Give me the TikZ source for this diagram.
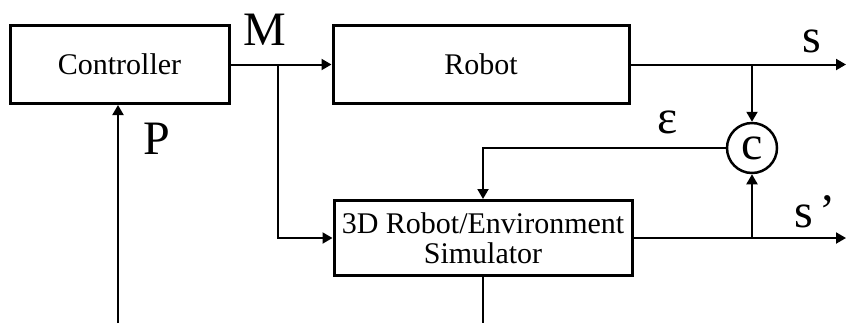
\documentclass[tikz,border=0pt]{standalone}
\usepackage{fontspec}
\setmainfont{Liberation Serif}
\usetikzlibrary{arrows.meta}
\begin{document}
\begin{tikzpicture}[x=0.5pt,y=-0.5pt,
  block/.style={draw, line width=1.5pt, inner sep=0pt, align=center,
    font=\fontsize{15}{15}\selectfont},
  conn/.style={line width=1pt},
  arr/.style={conn, -{Triangle[length=5pt,width=5.5pt]}},
  lbl/.style={inner sep=0pt, anchor=base, font=\fontsize{24}{24}\selectfont},
  cmpnode/.style={draw, circle, line width=1.25pt, inner sep=0pt,
    minimum size=25pt, font=\fontsize{24}{24}\selectfont}]
  \useasboundingbox (0,0) rectangle (846,323);

  % blocks
  \node[block, minimum width=109.5pt, minimum height=39pt] (ctrl) at (119.5,64.5) {Controller};
  \node[block, minimum width=148pt, minimum height=39pt] (robot) at (481,64.5) {Robot};
  \node[block, minimum width=149pt, minimum height=37.5pt] (sim) at (483,238) {3D Robot/Environment\\Simulator};
  \node[cmpnode] (cmp) at (752,148) {c};

  % branch points and free ends
  \coordinate (jM) at (278,64.5);
  \coordinate (jS) at (752,64.5);
  \coordinate (jSP) at (752,238);
  \coordinate (sOut) at (846,64.5);
  \coordinate (spOut) at (846,238);
  \coordinate (simBot) at (483,323);
  \coordinate (pBot) at (118,323);

  % connectors
  \draw[arr] (ctrl.east) -- (robot.west);
  \draw[arr] (jM) |- (sim.west);
  \draw[arr] (robot.east) -- (sOut);
  \draw[arr] (jS) -- (cmp.north);
  \draw[arr] (sim.east) -- (spOut);
  \draw[arr] (jSP) -- (cmp.south);
  \draw[arr] (cmp.west) -| (sim.north);
  \draw[conn] (sim.south) -- (simBot);
  \draw[arr] (pBot) -- (pBot |- ctrl.south);

  % signal labels
  \node[lbl] (lM) at (265,45) {M};
  \node[lbl] (lP) at (156.5,154) {P};
  \node[lbl] (ls) at (812,52) {s};
  \node[lbl] (lsp) at (815,227) {s\hspace{0.15em}’};
  \node[lbl] (leps) at (668,133) {ε};
\end{tikzpicture}
\end{document}
